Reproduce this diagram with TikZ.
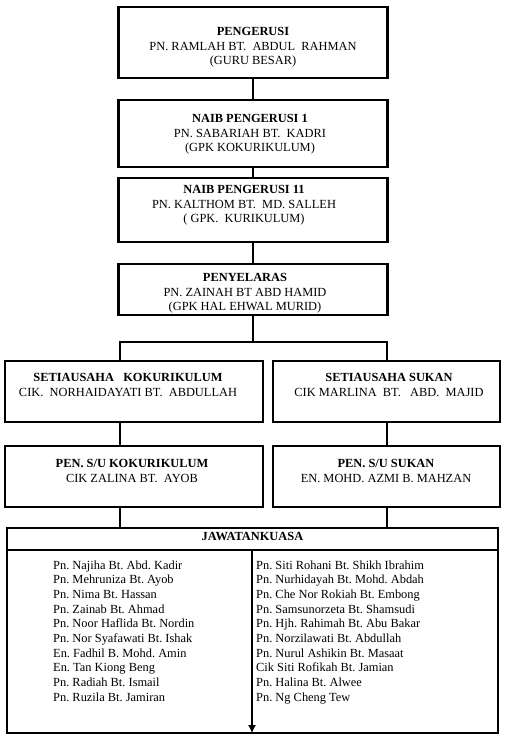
\documentclass[tikz,border=0pt]{standalone}
\usepackage{fontspec}
\setmainfont{Liberation Serif}
\usetikzlibrary{arrows.meta}
\frenchspacing
\newcommand\Fnt{\fontsize{12.4}{14.7}\selectfont}
\tikzset{
  box/.style={draw, line width=2.4pt, inner sep=0pt},
  txt/.style={inner sep=0pt, align=center, anchor=north, font=\Fnt},
  link/.style={line width=2.6pt, line join=miter},
  member/.style={inner sep=0pt, anchor=base west, font=\Fnt}
}

\begin{document}
\begin{tikzpicture}[x=1pt, y=-1pt]
                \useasboundingbox (0,0) rectangle (505,740);
                % upper chain
                \node [box, minimum width=269pt, minimum height=71pt] (pengerusi) at (253,42.5) {};
                \node [box, minimum width=269pt, minimum height=67pt] (naib1) at (253,133.5) {};
                \node [box, minimum width=269pt, minimum height=64pt] (naib2) at (253,210) {};
                \node [box, minimum width=269pt, minimum height=51pt] (penyelaras) at (253,289.5) {};
                \node [txt] (pengerusiT) at (253,27) {\textbf{PENGERUSI}\\PN. RAMLAH BT.\ \ ABDUL\ \ RAHMAN\\(GURU BESAR)};
                \node [txt] (naib1T) at (250,114) {\textbf{NAIB PENGERUSI 1}\\PN. SABARIAH BT.\ \ KADRI\\(GPK KOKURIKULUM)};
                \node [txt] (naib2T) at (244,185) {\textbf{NAIB PENGERUSI 11}\\PN. KALTHOM BT.\ \ MD. SALLEH\\( GPK.\ \ KURIKULUM)};
                \node [txt] (penyelarasT) at (245,273) {\textbf{PENYELARAS}\\PN. ZAINAH BT ABD HAMID\\(GPK HAL EHWAL MURID)};
                \draw [link] (pengerusi) -- (naib1);
                \draw [link] (naib1) -- (naib2);
                \draw [link] (naib2) -- (penyelaras);
                
                % two branches
                \node [box, minimum width=258pt, minimum height=61pt] (setiaKoku) at (134,391.5) {};
                \node [box, minimum width=227pt, minimum height=61pt] (setiaSukan) at (386.5,391.5) {};
                \node [box, minimum width=258pt, minimum height=61pt] (penKoku) at (134,476.5) {};
                \node [box, minimum width=227pt, minimum height=61pt] (penSukan) at (386.5,476.5) {};
                \node [txt] (setiaKokuT) at (128,373) {\textbf{SETIAUSAHA\ \ \ KOKURIKULUM}\\CIK.\ \ NORHAIDAYATI BT.\ \ ABDULLAH};
                \node [txt] (setiaSukanT) at (389,373) {\textbf{SETIAUSAHA SUKAN}\\CIK MARLINA\ \ BT.\ \ \ ABD.\ \ MAJID};
                \node [txt] (penKokuT) at (132,459) {\textbf{PEN. S/U KOKURIKULUM}\\CIK ZALINA BT.\ \ AYOB};
                \node [txt] (penSukanT) at (386,459) {\textbf{PEN. S/U SUKAN}\\EN. MOHD. AZMI B. MAHZAN};
                \coordinate (brL) at (120,342);
                \coordinate (brR) at (387,342);
                \draw [link] (penyelaras.south) -- (penyelaras.south |- brL);
                \draw [link] (brL |- setiaKoku.north) -- (brL) -- (brR) -- (brR |- setiaSukan.north);
                \draw [link] (setiaKoku.south -| brL) -- (brL |- penKoku.north);
                \draw [link] (setiaSukan.south -| brR) -- (brR |- penSukan.north);
                
                % committee
                \node [box, minimum width=491pt, minimum height=22pt] (jawHead) at (252.5,539) {};
                \node [box, minimum width=491pt, minimum height=183pt] (jawBody) at (252.5,641.5) {};
                \node [txt] (jawT) at (252.5,532) {\textbf{JAWATANKUASA}};
                \draw [link] (penKoku.south -| brL) -- (brL |- jawHead.north);
                \draw [link] (penSukan.south -| brR) -- (brR |- jawHead.north);
                \coordinate (div) at (252,550);
                \draw [line width=1.6pt, -{Latex[length=8pt, width=8pt]}] (div) -- ([yshift=1pt]div |- jawBody.south);
                
                \foreach \n [count=\i] in {Pn. Najiha Bt. Abd. Kadir, Pn. Mehruniza Bt. Ayob, Pn. Nima Bt. Hassan, Pn. Zainab Bt. Ahmad, Pn. Noor Haflida Bt. Nordin, Pn. Nor Syafawati Bt. Ishak, En. Fadhil B. Mohd. Amin, En. Tan Kiong Beng, Pn. Radiah Bt. Ismail, Pn. Ruzila Bt. Jamiran}
                  \node [member] (left\i) at (53,{554.3+14.7*\i}) {\n};
                \foreach \n [count=\i] in {Pn. Siti Rohani Bt. Shikh Ibrahim, Pn. Nurhidayah Bt. Mohd. Abdah, Pn. Che Nor Rokiah Bt. Embong, Pn. Samsunorzeta Bt. Shamsudi, Pn. Hjh. Rahimah Bt. Abu Bakar, Pn. Norzilawati Bt. Abdullah, Pn. Nurul Ashikin Bt. Masaat, Cik Siti Rofikah Bt. Jamian, Pn. Halina Bt. Alwee, Pn. Ng Cheng Tew}
                  \node [member] (right\i) at (256,{554.3+14.7*\i}) {\n};
\end{tikzpicture}
\end{document}
